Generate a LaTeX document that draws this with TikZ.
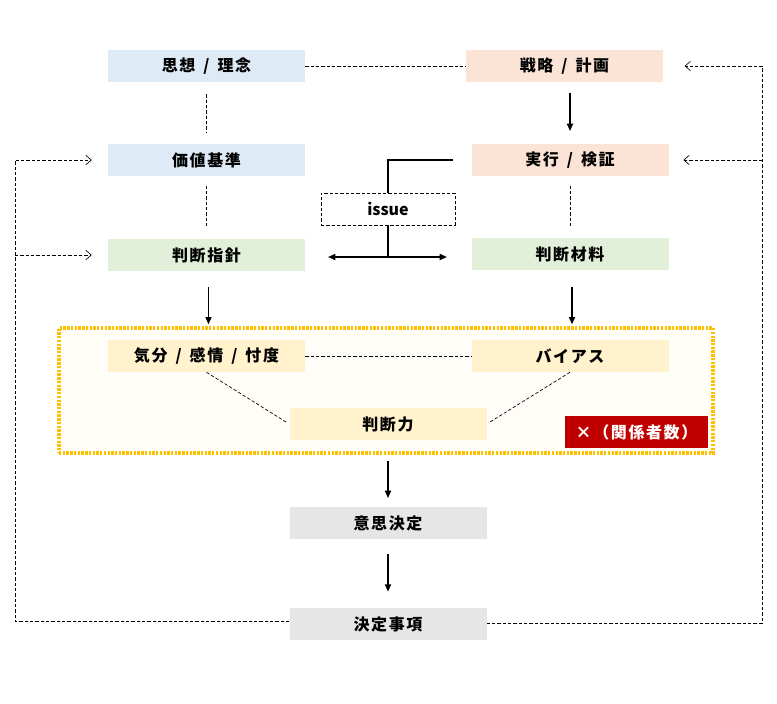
\documentclass[tikz,border=0pt]{standalone}
\usepackage{fontspec}
\newfontfamily\jp[LetterSpace=10]{Noto Sans CJK JP}
\newfontfamily\jplatin{Noto Sans CJK JP}
\newcommand{\slsep}{\hspace{0.5em}/\hspace{0.5em}}
\usetikzlibrary{arrows.meta}
\definecolor{bluebox}{HTML}{DEEAF6}
\definecolor{peachbox}{HTML}{FBE4D5}
\definecolor{greenbox}{HTML}{E2EFD9}
\definecolor{yellowbox}{HTML}{FFF2CC}
\definecolor{graybox}{HTML}{E7E6E6}
\definecolor{redbox}{HTML}{C00000}
\definecolor{frameline}{HTML}{FFC000}
\definecolor{framefill}{HTML}{FFFDF8}
\tikzset{
  box/.style      = {shape=rectangle, inner sep=0pt,
                     minimum width=147.75pt, minimum height=24pt,
                     font=\jp\bfseries\fontsize{12}{14}\selectfont},
  blue/.style     = {box, fill=bluebox},
  peach/.style    = {box, fill=peachbox},
  green/.style    = {box, fill=greenbox},
  yellow/.style   = {box, fill=yellowbox},
  gray/.style     = {box, fill=graybox},
  redtag/.style   = {box, fill=redbox, text=white, minimum width=107pt},
  issuebox/.style = {box, draw, line width=0.5pt, fill=white,
                     font=\jplatin\bfseries\fontsize{12}{14}\selectfont,
                     minimum width=100.5pt, dash pattern=on 2.5pt off 1.5pt},
  container/.style= {shape=rectangle, draw=frameline, fill=framefill,
                     line width=2.4pt, dash pattern=on 1.8pt off 1pt,
                     minimum width=490.5pt, minimum height=93.75pt},
  dashline/.style = {line width=0.5pt, dash pattern=on 2.5pt off 1.5pt},
  arr/.style      = {line width=1.2pt, -{Triangle[length=5.5pt,width=4.5pt]}},
  solid line/.style = {line width=1.2pt},
  dblarr/.style   = {line width=1.2pt,
                     {Triangle[length=5.5pt,width=4.5pt]}-{Triangle[length=5.5pt,width=4.5pt]}},
  fbarr/.style    = {dashline, -{Straight Barb[length=4pt,width=7pt]}}
}

\begin{document}
\begin{tikzpicture}[x=0.75pt,y=-0.75pt]
  \useasboundingbox (0,0) rectangle (777,703);

  \node (frame)    [container] at (386,390.5) {};

  \node (siso)     [blue]   at (206.5,66)  {思想\slsep 理念};
  \node (senryaku) [peach]  at (564.5,66)  {戦略\slsep 計画};
  \node (kachi)    [blue]   at (206.5,160) {価値基準};
  \node (jikko)    [peach]  at (570,160)   {実行\slsep 検証};
  \node (issue)    [issuebox] at (388,209) {issue};
  \node (shishin)  [green]  at (206.5,255) {判断指針};
  \node (zairyo)   [green]  at (570,254)   {判断材料};
  \node (kibun)    [yellow] at (206.5,356) {気分\slsep 感情\slsep 忖度};
  \node (bias)     [yellow] at (570,356)   {バイアス};
  \node (handan)   [yellow] at (388,424)   {判断力};
  \node (kankei)   [redtag] at (636.5,432) {×（関係者数）};
  \node (ishi)     [gray]   at (388,523)   {意思決定};
  \node (kettei)   [gray]   at (388,624)   {決定事項};

  \coordinate (fork)  at (388,257);
  \coordinate (forkL) at (328,257);
  \coordinate (forkR) at (447,257);
  \coordinate (lft)   at (15,621);
  \coordinate (rgt)   at (762,623);

  \draw[dashline] (siso) -- (senryaku);
  \draw[dashline, shorten <=9pt, shorten >=9pt] (siso) -- (kachi);
  \draw[dashline, shorten <=7pt, shorten >=9pt] (kachi) -- (shishin);
  \draw[dashline, shorten <=7pt, shorten >=9pt] (jikko) -- (zairyo);
  \draw[arr, shorten <=8pt, shorten >=9.5pt]
    (jikko.north |- senryaku.south) -- (jikko.north);

  \draw[solid line] (jikko.west) ++(-18,0) -| (issue.north);
  \draw[solid line] (issue.south) -- (fork);
  \draw[dblarr] (forkL) -- (forkR);

  \draw[arr, shorten <=12pt, shorten >=1.5pt]
    ([xshift=1.5pt]shishin.south) -- ([xshift=1.5pt]shishin.south |- frame.north);
  \draw[arr, shorten <=12.5pt, shorten >=1.5pt]
    ([xshift=1.5pt]zairyo.south) -- ([xshift=1.5pt]zairyo.south |- frame.north);

  \draw[dashline] (kibun) -- (bias);
  \draw[dashline, shorten >=1.5pt] (kibun.south) -- (handan.west);
  \draw[dashline, shorten >=1.5pt] (bias.south) -- (handan.east);

  \draw[arr, shorten <=5pt, shorten >=6.5pt] (handan.south |- frame.south) -- (ishi.north);
  \draw[arr, shorten <=11pt, shorten >=12pt] (ishi) -- (kettei);

  \draw[fbarr, shorten >=12pt] (kettei.west |- lft) -- (lft) |- (kachi.west);
  \draw[fbarr, shorten >=12pt] (lft |- shishin) -- (shishin.west);
  \draw[fbarr, shorten >=16pt] (kettei.east |- rgt) -- (rgt) |- (senryaku.east);
  \draw[fbarr, shorten >=11pt] (rgt |- jikko) -- (jikko.east);
\end{tikzpicture}
\end{document}
